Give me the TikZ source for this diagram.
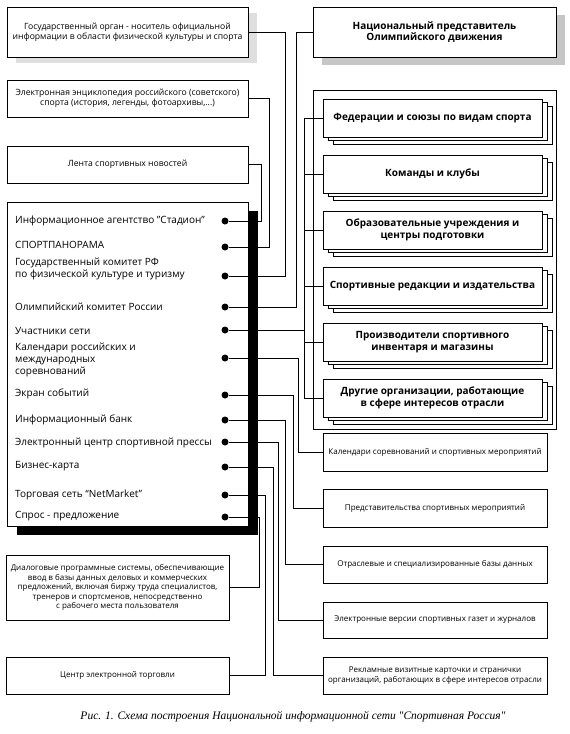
\documentclass[tikz,border=0pt]{standalone}
\usepackage{fontspec}
\setmainfont{Open Sans}
\newfontfamily\capfont{Liberation Serif}
\usetikzlibrary{shadows}
\begin{document}
\begin{tikzpicture}[x=1pt,y=-1pt,
  box/.style={draw, fill=white, line width=0.7pt, inner sep=1pt, align=center, font=\fontsize{8.6}{10}\selectfont},
  sbox/.style={box, font=\fontsize{8}{9.6}\selectfont},
  mbox/.style={box, minimum width=219pt, minimum height=38pt, font=\bfseries\fontsize{10}{11.5}\selectfont,
     double copy shadow={shadow xshift=5pt, shadow yshift=-3.5pt, fill=white, draw=black, line width=0.7pt}},
  rbox/.style={sbox, minimum width=224pt},
  item/.style={anchor=west, align=left, inner sep=0pt, font=\fontsize{10}{12}\selectfont},
  dot/.style={circle, fill=black, inner sep=0pt, minimum size=7pt},
  con/.style={line width=0.6pt},
]
\useasboundingbox (0,0) rectangle (570,734);
% left top boxes
\node[box, minimum width=241pt, minimum height=50pt, drop shadow={shadow xshift=9pt, shadow yshift=-6pt, fill=gray!25, opacity=1}] (gos) at (127.5,32)
  {Государственный орган - носитель официальной\\информации в области физической культуры и спорта};
\node[box, minimum width=241pt, minimum height=37pt] (enc) at (127.5,98.5)
  {Электронная энциклопедия российского (советского)\\спорта (история, легенды, фотоархивы,...)};
\node[box, minimum width=241pt, minimum height=37pt] (lenta) at (127.5,164.5) {Лента спортивных новостей};
% central box
\node[draw, fill=white, line width=0.7pt, minimum width=241pt, minimum height=324pt, inner sep=0pt,
  drop shadow={shadow xshift=10pt, shadow yshift=-9pt, fill=black, opacity=1}] (cen) at (127.5,364) {};
\node[item] (t1) at (15,221) {Информационное агентство "Стадион"};
\node[item] (t2) at (15,245) {СПОРТПАНОРАМА};
\node[item] (t3) at (15,268.5) {Государственный комитет РФ\\по физической культуре и туризму};
\node[item] (t4) at (15,307) {Олимпийский комитет России};
\node[item] (t5) at (15,331) {Участники сети};
\node[item] (t6) at (15,360) {Календари российских и\\международных\\соревнований};
\node[item] (t7) at (15,394) {Экран событий};
\node[item] (t8) at (15,420) {Информационный банк};
\node[item] (t9) at (15,443) {Электронный центр спортивной прессы};
\node[item] (t10) at (15,466) {Бизнес-карта};
\node[item] (t11) at (15,495) {Торговая сеть “NetMarket”};
\node[item] (t12) at (15,516) {Спрос - предложение};
\foreach \i/\y in {1/221,2/247,3/276,4/307,5/330,6/358,7/395,8/420,9/442,10/467,11/495,12/517}
  \node[dot] (d\i) at (225,\y) {};
% bottom left boxes
\node[sbox, minimum width=223pt, minimum height=65pt] (dia) at (117.5,587.5)
  {Диалоговые программные системы, обеспечивающие\\ввод в базы данных деловых и коммерческих\\предложений, включая биржу труда специалистов,\\тренеров и спортсменов, непосредственно\\с рабочего места пользователя};
\node[sbox, minimum width=223pt, minimum height=37pt] (torg) at (117.5,675.5) {Центр электронной торговли};
% right top
\node[box, minimum width=243pt, minimum height=50pt, font=\bfseries\fontsize{10}{11.5}\selectfont,
  drop shadow={shadow xshift=9pt, shadow yshift=-8pt, fill=gray!45, opacity=1}] (nat) at (434.5,32)
  {Национальный представитель\\Олимпийского движения};
\draw[line width=0.7pt] (313,90) rectangle (556,429);
\node[mbox] (m1) at (432.5,118) {Федерации и союзы по видам спорта};
\node[mbox] (m2) at (432.5,174) {Команды и клубы};
\node[mbox] (m3) at (432.5,230) {Образовательные учреждения и\\центры подготовки};
\node[mbox] (m4) at (432.5,286) {Спортивные редакции и издательства};
\node[mbox] (m5) at (432.5,342) {Производители спортивного\\инвентаря и магазины};
\node[mbox] (m6) at (432.5,398) {Другие организации, работающие\\в сфере интересов отрасли};
% right single boxes
\node[rbox, minimum height=38pt] (kal) at (435,452) {Календари соревнований и спортивных мероприятий};
\node[rbox, minimum height=38pt] (pred) at (435,508) {Представительства спортивных мероприятий};
\node[rbox, minimum height=37pt] (otr) at (435,564.5) {Отраслевые и специализированные базы данных};
\node[rbox, minimum height=36pt] (ver) at (435,620) {Электронные версии спортивных газет и журналов};
\node[rbox, minimum height=37pt] (rek) at (435,675.5) {Рекламные визитные карточки и странички\\организаций, работающих в сфере интересов отрасли};
% bus coordinates
\foreach \x in {259,261,265,269,273,278,285,293,296,298,304}
  \coordinate (x\x) at (\x,0);
% connectors
\draw[con] (lenta.east) -| (x261 |- d1) -- (d1);
\draw[con] (enc.east) -| (x269 |- d2) -- (d2);
\draw[con] (gos.east) -| (x285 |- d3) -- (d3);
\draw[con] (nat.west) -| (x296 |- d4) -- (d4);
\draw[con] (d5) -- (x304 |- d5);
\draw[con] (x304 |- m1.west) -- (x304 |- m6.west);
\foreach \m in {m1,m2,m3,m4,m5,m6}
  \draw[con] (x304 |- \m.west) -- (\m.west);
\draw[con] (d6) -| (x298 |- kal.west) -- (kal.west);
\draw[con] (d7) -| (x293 |- pred.west) -- (pred.west);
\draw[con] (d8) -| (x285 |- otr.west) -- (otr.west);
\draw[con] (d9) -| (x278 |- ver.west) -- (ver.west);
\draw[con] (d10) -| (x273 |- rek.west) -- (rek.west);
\draw[con] (d11) -| (x265 |- torg.east) -- (torg.east);
\draw[con] (d12) -| (x259 |- dia.east) -- (dia.east);
% caption
\node[font=\capfont\itshape\fontsize{11.5}{13}\selectfont] (cap) at (293,717)
  {Рис. 1. Схема построения Национальной информационной сети "Спортивная Россия"};
\end{tikzpicture}
\end{document}
